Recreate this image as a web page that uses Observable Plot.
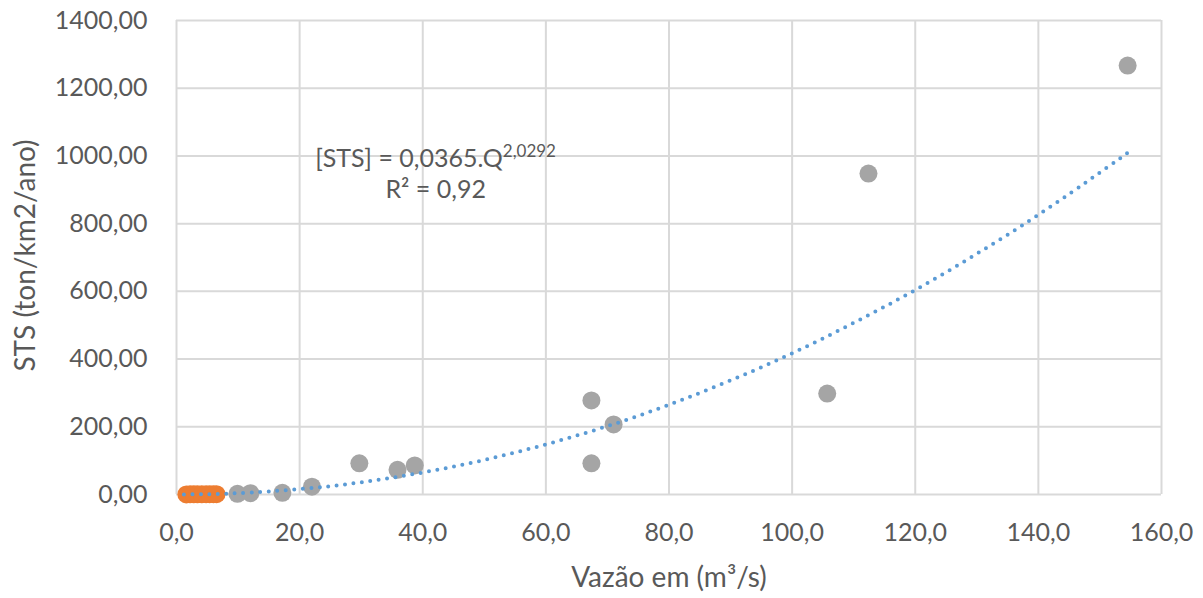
<!DOCTYPE html>
<html>
<head>
<meta charset="utf-8">
<script src="https://cdn.jsdelivr.net/npm/d3@7"></script>
<script src="https://cdn.jsdelivr.net/npm/@observablehq/plot@0.6"></script>
<style>
  html, body { margin: 0; padding: 0; background: #ffffff; }
  #chart { width: 1203px; height: 598px; }
</style>
</head>
<body>
<div id="chart"></div>
<script>
// Observed data: gray series
const flowGray = [9.9, 12.0, 17.2, 22.0, 29.7, 35.9, 38.7, 67.4, 67.4, 71.0, 105.7, 112.4, 154.5];
const stsGray  = [2, 4, 5, 23, 92, 73, 86, 278, 92, 207, 298, 948, 1267];
// Observed data: orange series
const flowOrange = [1.6, 2.2, 2.8, 3.4, 4.1, 4.8, 5.4, 6.0, 6.5];
const stsOrange  = [0.3, 0.4, 0.5, 0.6, 0.7, 0.8, 0.9, 1.0, 1.1];
// Power trend line
const trendFlow = [1.2, 5, 10, 20, 30, 40, 50, 60, 70, 80, 90, 100, 110, 120, 130, 140, 150, 154.5];
const trendSts  = [0.05, 0.97, 3.9, 15.9, 36, 65, 102, 148, 202, 265, 337, 417, 507, 604, 711, 826, 951, 1009];
// Ticks
const xTicks = [0, 20, 40, 60, 80, 100, 120, 140, 160];
const yTicks = [0, 200, 400, 600, 800, 1000, 1200, 1400];
// Annotation and titles
const eqMain = "[STS] = 0,0365.Q";
const eqExp = "2,0292";
const eqR2 = "R² = 0,92";
const xTitle = "Vazão em (m³/s)";
const yTitle = "STS (ton/km2/ano)";

const fmtX = d => d.toFixed(1).replace(".", ",");
const fmtY = d => d.toFixed(2).replace(".", ",");

const gray = flowGray.map((f, i) => ({f, s: stsGray[i]}));
const orange = flowOrange.map((f, i) => ({f, s: stsOrange[i]}));
const trend = trendFlow.map((f, i) => ({f, s: trendSts[i]}));

const textColor = "#595959";
const gridColor = "#d9d9d9";

const svg = Plot.plot({
  width: 1203,
  height: 598,
  marginLeft: 176,
  marginRight: 42,
  marginTop: 20,
  marginBottom: 104,
  style: { fontFamily: "Lato, 'Open Sans', sans-serif", fontSize: "25px", color: textColor, background: "#ffffff" },
  x: { domain: [0, 160] },
  y: { domain: [0, 1400] },
  marks: [
    Plot.gridX(xTicks, { stroke: gridColor, strokeOpacity: 1, strokeWidth: 2 }),
    Plot.gridY(yTicks, { stroke: gridColor, strokeOpacity: 1, strokeWidth: 2 }),
    Plot.axisX(xTicks, {
      tickSize: 0, tickPadding: 29, tickFormat: fmtX, fontSize: 25, fill: textColor, label: null
    }),
    Plot.axisY(yTicks, {
      tickSize: 0, tickPadding: 29, tickFormat: fmtY, fontSize: 25, fill: textColor, label: null
    }),
    Plot.text([xTitle], { frameAnchor: "bottom", dy: 84, text: d => d, fontSize: 28, fill: textColor, textAnchor: "middle", lineAnchor: "middle" }),
    Plot.text([yTitle], { frameAnchor: "left", dx: -150, dy: -2, rotate: -90, text: d => d, fontSize: 28, fill: textColor, textAnchor: "middle", lineAnchor: "middle" }),
    Plot.dot(gray, { x: "f", y: "s", r: 9, fill: "#a5a5a5", stroke: "none" }),
    Plot.dot(orange, { x: "f", y: "s", r: 9, fill: "#ed7d31", stroke: "none" }),
    Plot.line(trend, {
      x: "f", y: "s", curve: "natural", stroke: "#5b9bd5", strokeWidth: 4,
      strokeDasharray: "0 8.5", strokeLinecap: "round"
    }),
    Plot.text([eqMain], { x: 42.1, y: 992, text: d => d, fontSize: 25, fill: textColor, textAnchor: "middle", className: "eqn" }),
    Plot.text([eqR2], { x: 42.1, y: 898, text: d => d, fontSize: 25, fill: textColor, textAnchor: "middle" })
  ]
});

// superscript exponent on the equation
const eq = d3.select(svg).select("g.eqn text");
const base = eq.text();
eq.text("");
eq.append("tspan").text(base);
eq.append("tspan").attr("dy", "-10").attr("font-size", 17).text(eqExp);

document.getElementById("chart").appendChild(svg);
</script>
</body>
</html>
